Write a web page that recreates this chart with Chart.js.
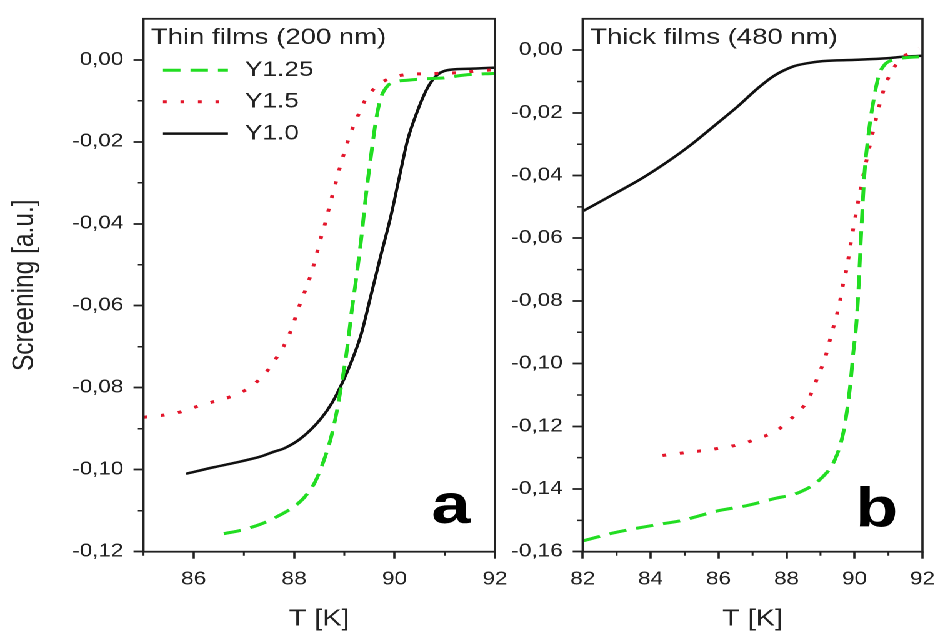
<!DOCTYPE html>
<html>
<head>
<meta charset="utf-8">
<title>Screening vs T</title>
<script src="https://cdn.jsdelivr.net/npm/chart.js@4.4.1/dist/chart.umd.min.js"></script>
<style>
  html, body { margin: 0; padding: 0; background: #fff; }
  /* the original figure is stretched horizontally, so the whole stage is too */
  #stage { position: relative; width: 758.4px; height: 633px; transform: scaleX(1.25); transform-origin: 0 0; }
  #stage canvas { position: absolute; top: 0; }
</style>
</head>
<body>
<div id="stage">
  <canvas id="thin" width="420" height="633" style="left:0"></canvas>
  <canvas id="thick" width="358" height="633" style="left:400px"></canvas>
</div>
<script>
// ---- panel a: thin films (200 nm) ----
const thinRangeT = [85, 92];
const thinRangeS = [-0.12, 0.01];

const thinT125 = [86.6, 86.93, 87.33, 87.73, 88.0, 88.2, 88.4, 88.53, 88.73, 88.86, 88.96, 89.03, 89.1, 89.14, 89.23, 89.33, 89.43, 89.53, 89.63, 89.73, 89.86, 90.0, 90.26, 90.66, 91.0, 91.4, 92.0];
const thinS125 = [-0.1156, -0.1148, -0.1133, -0.1110, -0.1090, -0.1068, -0.1034, -0.0998, -0.0924, -0.0852, -0.0780, -0.0728, -0.0662, -0.0620, -0.0540, -0.0444, -0.0332, -0.0236, -0.0148, -0.0092, -0.0064, -0.0054, -0.0050, -0.0046, -0.0044, -0.0037, -0.0033];

const thinT15 = [85.0, 85.5, 85.8, 86.13, 86.46, 86.8, 87.13, 87.43, 87.66, 87.83, 87.96, 88.06, 88.18, 88.28, 88.38, 88.46, 88.54, 88.63, 88.73, 88.83, 88.93, 89.03, 89.13, 89.26, 89.4, 89.63, 89.93, 90.26, 90.6, 91.2, 91.6, 92.0];
const thinS15 = [-0.0872, -0.0865, -0.0857, -0.0843, -0.0832, -0.0819, -0.0798, -0.0764, -0.0725, -0.0690, -0.0653, -0.0616, -0.0576, -0.0544, -0.0505, -0.0469, -0.0432, -0.0394, -0.0345, -0.0300, -0.0255, -0.0214, -0.0178, -0.0140, -0.0102, -0.0066, -0.0044, -0.0036, -0.0034, -0.0032, -0.0028, -0.0024];

const thinT10 = [85.85, 86.4, 86.93, 87.33, 87.6, 87.8, 88.13, 88.53, 88.76, 88.96, 89.13, 89.33, 89.5, 89.73, 89.93, 90.1, 90.26, 90.46, 90.66, 90.86, 91.13, 91.5, 92.0];
const thinS10 = [-0.1010, -0.0994, -0.0980, -0.0968, -0.0956, -0.0948, -0.0924, -0.0876, -0.0836, -0.0788, -0.0740, -0.0672, -0.0590, -0.0476, -0.0380, -0.0284, -0.0196, -0.0124, -0.0068, -0.0036, -0.0024, -0.0022, -0.0019];

// ---- panel b: thick films (480 nm) ----
const thickRangeT = [82, 92];
const thickRangeS = [-0.16, 0.01];

const thickT125 = [82.02, 82.87, 84.01, 84.97, 85.92, 86.87, 87.63, 88.39, 89.0, 89.43, 89.67, 89.81, 89.89, 89.96, 90.05, 90.1, 90.19, 90.29, 90.4, 90.53, 90.72, 90.9, 91.14, 91.62, 92.0];
const thickS125 = [-0.1565, -0.1541, -0.1517, -0.1499, -0.1471, -0.1452, -0.1431, -0.1410, -0.1368, -0.1305, -0.1221, -0.1127, -0.1054, -0.0970, -0.0880, -0.0800, -0.0600, -0.0400, -0.0280, -0.0180, -0.0080, -0.0045, -0.0031, -0.0023, -0.0021];

const thickT15 = [84.35, 84.87, 85.77, 86.72, 87.2, 87.68, 88.1, 88.53, 88.77, 88.94, 89.12, 89.24, 89.36, 89.48, 89.58, 89.67, 89.77, 89.91, 90.07, 90.24, 90.43, 90.64, 90.88, 91.07, 91.38, 91.81, 91.9];
const thickS15 = [-0.1293, -0.1286, -0.1274, -0.1255, -0.1237, -0.1216, -0.1179, -0.1132, -0.1085, -0.1035, -0.0988, -0.0940, -0.0891, -0.0844, -0.0797, -0.0744, -0.0697, -0.0603, -0.0506, -0.0409, -0.0315, -0.0217, -0.0120, -0.0073, -0.0026, 0.0000, 0.0006];

const thickT10 = [82.0, 82.87, 83.73, 84.58, 85.15, 85.92, 86.58, 87.15, 87.63, 88.2, 88.6, 89.06, 90.0, 90.96, 91.43, 92.0];
const thickS10 = [-0.0514, -0.0462, -0.0410, -0.0350, -0.0305, -0.0237, -0.0178, -0.0122, -0.0082, -0.0052, -0.0042, -0.0035, -0.0031, -0.0026, -0.0021, -0.0018];

const FONT = '"Liberation Sans", Arial, sans-serif';
const INK = '#222';

const seriesStyle = {
  'Y1.25': { borderColor: '#22dd22', borderWidth: 3, borderDash: [14, 8] },
  'Y1.5':  { borderColor: '#e3162b', borderWidth: 3, borderDash: [3, 11] },
  'Y1.0':  { borderColor: '#111111', borderWidth: 2.5, borderDash: [] }
};

function makeDataset(label, t, s) {
  return Object.assign({
    label: label,
    data: t.map((v, i) => ({ x: v, y: s[i] })),
    pointRadius: 0,
    fill: false,
    cubicInterpolationMode: 'monotone'
  }, seriesStyle[label]);
}

function minorValues(scale, step) {
  const out = [];
  const k0 = Math.ceil(scale.min / step - 1e-6);
  const k1 = Math.floor(scale.max / step + 1e-6);
  for (let k = k0; k <= k1; k++) {
    if (Math.abs(k % 2) !== 1) continue;
    const v = k * step;
    if (scale.axis === 'y' && v > scale.max - 1e-9) continue;
    out.push(v);
  }
  return out;
}

// box around the plot, minor ticks, inset legend and the panel letter
const panelDecor = {
  id: 'panelDecor',
  afterDraw(chart, args, opts) {
    const { ctx, chartArea: a, scales } = chart;
    ctx.save();
    ctx.strokeStyle = INK;
    ctx.lineWidth = 1.8;
    ctx.setLineDash([]);
    ctx.strokeRect(a.left, a.top, a.right - a.left, a.bottom - a.top);

    ctx.lineWidth = 1.5;
    ctx.beginPath();
    minorValues(scales.x, opts.minorX).forEach(v => {
      const px = scales.x.getPixelForValue(v);
      ctx.moveTo(px, a.bottom);
      ctx.lineTo(px, a.bottom + 4);
    });
    minorValues(scales.y, opts.minorY).forEach(v => {
      const py = scales.y.getPixelForValue(v);
      ctx.moveTo(a.left, py);
      ctx.lineTo(a.left - 4.5, py);
    });
    ctx.stroke();

    ctx.fillStyle = INK;
    ctx.textAlign = 'left';
    ctx.textBaseline = 'middle';
    ctx.font = '22px ' + FONT;
    ctx.fillText(opts.title, a.left + 6, a.top + 19.2);

    if (opts.items) {
      ctx.font = '21px ' + FONT;
      chart.data.datasets.forEach((ds, i) => {
        const y = a.top + opts.rows[i];
        ctx.strokeStyle = ds.borderColor;
        ctx.lineWidth = ds.borderWidth;
        ctx.setLineDash(ds.borderDash || []);
        ctx.beginPath();
        ctx.moveTo(a.left + 15.6, y);
        ctx.lineTo(a.left + 67.6, y);
        ctx.stroke();
        ctx.setLineDash([]);
        ctx.fillText(ds.label, a.left + 81.2, y);
      });
    }

    ctx.fillStyle = '#000';
    ctx.font = 'bold 56px ' + FONT;
    ctx.textAlign = 'center';
    ctx.textBaseline = 'alphabetic';
    ctx.fillText(opts.letter, a.right - opts.letterDx, a.bottom - opts.letterDy);
    ctx.restore();
  }
};

function commaTick(v) {
  if (Math.abs(v) < 1e-9) v = 0;
  return v.toFixed(2).replace('.', ',');
}

function buildChart(id, datasets, rangeT, rangeS, yWidth, padRight, yTitle, decor) {
  const ctx = document.getElementById(id).getContext('2d');
  return new Chart(ctx, {
    type: 'line',
    data: { datasets: datasets },
    plugins: [panelDecor],
    options: {
      responsive: false,
      animation: false,
      devicePixelRatio: 2,
      layout: { padding: { left: 0, top: 10, right: padRight, bottom: 0 } },
      plugins: {
        legend: { display: false },
        tooltip: { enabled: false },
        panelDecor: decor
      },
      scales: {
        x: {
          type: 'linear',
          min: rangeT[0],
          max: rangeT[1],
          afterFit: s => { s.height = 81.3; },
          border: { display: false },
          grid: { drawOnChartArea: false, tickLength: 7, tickWidth: 1.8, tickColor: INK },
          ticks: { stepSize: 2, includeBounds: false, maxRotation: 0, padding: 10, color: INK, font: { size: 18, family: FONT } },
          title: { display: true, text: 'T [K]', color: INK, font: { size: 23, family: FONT }, padding: { top: 0, bottom: 0 } }
        },
        y: {
          min: rangeS[0],
          max: rangeS[1],
          afterFit: s => { s.width = yWidth; },
          border: { display: false },
          grid: { drawOnChartArea: false, tickLength: 8, tickWidth: 1.8, tickColor: INK },
          ticks: { stepSize: 0.02, includeBounds: false, padding: 8, color: INK, font: { size: 18, family: FONT }, callback: commaTick },
          title: { display: !!yTitle, text: yTitle, color: INK, font: { size: 24.5, family: FONT }, padding: { top: 5, bottom: 0 } }
        }
      }
    }
  });
}

buildChart('thin', [
  makeDataset('Y1.25', thinT125, thinS125),
  makeDataset('Y1.5', thinT15, thinS15),
  makeDataset('Y1.0', thinT10, thinS10)
], thinRangeT, thinRangeS, 114.8, 24, 'Screening [a.u.]', {
  title: 'Thin films (200 nm)', items: true, rows: [51.5, 83, 114.8],
  minorX: 1, minorY: 0.01, letter: 'a', letterDx: 35.3, letterDy: 28.5
});

buildChart('thick', [
  makeDataset('Y1.25', thickT125, thickS125),
  makeDataset('Y1.5', thickT15, thickS15),
  makeDataset('Y1.0', thickT10, thickS10)
], thickRangeT, thickRangeS, 66.2, 11.4, '', {
  title: 'Thick films (480 nm)', items: false, rows: [],
  minorX: 1, minorY: 0.01, letter: 'b', letterDx: 36.6, letterDy: 25
});
</script>
</body>
</html>
